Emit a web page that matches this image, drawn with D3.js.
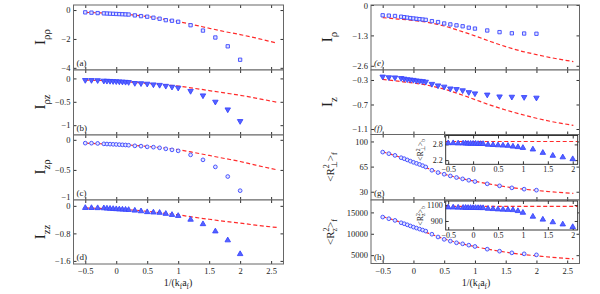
<!DOCTYPE html>
<html>
<head>
<meta charset="utf-8">
<script src="https://cdn.jsdelivr.net/npm/d3@7"></script>
<style>
  body { margin: 0; background: #fff; }
  svg text { font-family: "Liberation Serif", "Times New Roman", serif; fill: #222; }
</style>
</head>
<body>
<div id="chart"></div>
<script>
const width = 600;
const height = 294;

// x values of the simulation points and of the theory curves
const xs = [-0.5, -0.4, -0.3, -0.2, -0.15, -0.1, -0.05, 0, 0.05, 0.1, 0.15, 0.2,
  0.3, 0.4, 0.5, 0.6, 0.7, 0.8, 0.9, 1, 1.2, 1.4, 1.6, 1.8, 2];
const lineXs = [-0.5, -0.25, 0, 0.25, 0.5, 0.75, 1, 1.25, 1.5, 1.75, 2, 2.25, 2.6];
const insetLineXs = [-0.55, 0, 0.5, 1, 1.5, 2.1];

// panel (a) I_rho rho
const ptsA = [-0.16, -0.18, -0.21, -0.23, -0.24, -0.25, -0.26, -0.27, -0.28, -0.29, -0.3, -0.31,
  -0.37, -0.42, -0.46, -0.53, -0.6, -0.7, -0.74, -0.81, -1.05, -1.42, -1.9, -2.51, -3.44];
const lineA = [-0.16, -0.2, -0.25, -0.33, -0.45, -0.62, -0.8, -1.02, -1.26, -1.49, -1.7, -1.93, -2.3];
// panel (b) I_rho z
const ptsB = [-0.036, -0.037, -0.04, -0.05, -0.053, -0.056, -0.06, -0.063, -0.067, -0.071, -0.075, -0.08,
  -0.1, -0.105, -0.115, -0.13, -0.14, -0.16, -0.18, -0.2, -0.27, -0.365, -0.5, -0.665, -0.914];
const lineB = [-0.035, -0.045, -0.06, -0.08, -0.105, -0.135, -0.165, -0.21, -0.26, -0.31, -0.36, -0.42, -0.51];
// panel (c) I_z rho
const ptsC = [-0.055, -0.056, -0.06, -0.067, -0.07, -0.072, -0.075, -0.077, -0.08, -0.083, -0.086, -0.09,
  -0.1, -0.105, -0.117, -0.122, -0.133, -0.15, -0.167, -0.183, -0.25, -0.333, -0.45, -0.61, -0.845];
const lineC = [-0.055, -0.065, -0.075, -0.09, -0.11, -0.135, -0.165, -0.21, -0.26, -0.31, -0.36, -0.42, -0.5];
// panel (d) I_zz
const ptsD = [-0.058, -0.06, -0.064, -0.068, -0.075, -0.082, -0.088, -0.094, -0.1, -0.105, -0.11, -0.116,
  -0.136, -0.155, -0.18, -0.19, -0.2, -0.23, -0.26, -0.29, -0.4, -0.53, -0.74, -1.0, -1.4];
const lineD = [-0.06, -0.075, -0.09, -0.12, -0.16, -0.21, -0.26, -0.33, -0.39, -0.45, -0.5, -0.56, -0.63];
// panel (e) I_rho
const ptsE = [-0.44, -0.455, -0.47, -0.5, -0.52, -0.54, -0.56, -0.575, -0.59, -0.605, -0.62, -0.635,
  -0.69, -0.73, -0.79, -0.83, -0.87, -0.91, -0.97, -1.01, -1.09, -1.16, -1.21, -1.22, -1.23];
const lineE = [-0.54, -0.6, -0.66, -0.75, -0.9, -1.1, -1.32, -1.56, -1.78, -1.97, -2.12, -2.26, -2.42];
// panel (f) I_z
const ptsF = [-0.246, -0.257, -0.26, -0.27, -0.28, -0.29, -0.295, -0.3, -0.31, -0.315, -0.32, -0.33,
  -0.365, -0.39, -0.41, -0.44, -0.45, -0.47, -0.5, -0.52, -0.54, -0.57, -0.575, -0.58, -0.59];
const lineF = [-0.29, -0.32, -0.35, -0.39, -0.45, -0.53, -0.62, -0.71, -0.79, -0.86, -0.925, -0.98, -1.04];
// panel (g) <R_perp^2>_f
const ptsG = [85.2, 83, 80.6, 77.4, 76, 74.3, 72.6, 71, 69.5, 68, 66.3, 64.5,
  59.9, 56.7, 54.4, 52, 49.8, 47.9, 46, 44.2, 41, 38.2, 35.4, 33.6, 32.2];
const lineG = [85.5, 79, 71, 62, 54.5, 49, 44.5, 40.5, 37, 34, 31.8, 29.8, 27.8];
// panel (h) <R_z^2>_f
const ptsH = [13910, 13520, 13130, 12580, 12350, 12100, 11830, 11560, 11330, 11100, 10870, 10630,
  9900, 9250, 8700, 8280, 7890, 7650, 7340, 7030, 6400, 5930, 5540, 5310, 5070];
const lineH = [14000, 12900, 11500, 10100, 8800, 7800, 7000, 6300, 5700, 5200, 4850, 4500, 4150];
// insets: <R_perp^2>_b and <R_z^2>_b
const ptsGin = [2.85, 2.85, 2.84, 2.84, 2.84, 2.83, 2.83, 2.83, 2.83, 2.82, 2.82, 2.82,
  2.79, 2.78, 2.77, 2.76, 2.75, 2.72, 2.7, 2.67, 2.61, 2.48, 2.37, 2.31, 2.24];
const lineGin = [2.91, 2.91, 2.91, 2.91, 2.91, 2.91];
const ptsHin = [1071, 1070, 1068, 1066, 1066, 1065, 1065, 1064, 1064, 1063, 1063, 1062,
  1054, 1050, 1046, 1043, 1040, 1037, 1025, 1004, 955, 918, 885, 858, 825];
const lineHin = [1083, 1083, 1083, 1083, 1083, 1083];

const xTicks = [-0.5, 0, 0.5, 1, 1.5, 2, 2.5];
const insetXTicks = [-0.5, 0, 0.5, 1, 1.5, 2];

const blue = "#3a46ff";
const red = "#ff2a2a";

let svg = d3.select("#chart").append("svg")
  .attr("width", width)
  .attr("height", height);

let lineGen = (x, y) => d3.line()
  .x(d => x(d[0]))
  .y(d => y(d[1]))
  .curve(d3.curveMonotoneX);

// write a label made of normal / sub / sup pieces
function rich(text, parts, size) {
  let shift = 0;
  parts.forEach(p => {
    let target = p.s === "sub" ? 0.3 * size : p.s === "sup" ? -0.42 * size : 0;
    let ts = text.append("tspan")
      .attr("dy", target - shift)
      .attr("font-size", p.s ? size * 0.72 : size)
      .text(p.t);
    if (p.dx) ts.attr("dx", p.dx);
    shift = target;
  });
}

function fmtMinus(v) {
  return String(v).replace("-", "\u2212");
}

// draw one box with its points and curve
function drawPanel(p) {
  let x = d3.scaleLinear().domain(p.xDomain).range([p.x0, p.x1]);
  let y = d3.scaleLinear().domain(p.yDomain).range([p.y1, p.y0]);
  let g = svg.append("g");

  g.append("rect")
    .attr("x", p.x0).attr("y", p.y0)
    .attr("width", p.x1 - p.x0).attr("height", p.y1 - p.y0)
    .attr("fill", "#fff");

  let clip = "clip" + p.id;
  g.append("clipPath").attr("id", clip)
    .append("rect")
    .attr("x", p.x0).attr("y", p.y0)
    .attr("width", p.x1 - p.x0).attr("height", p.y1 - p.y0);

  let fs = p.inset ? 8 : 8.5;
  let axes = [
    [d3.axisBottom(x), p.y1, true],
    [d3.axisTop(x), p.y0, false]
  ];
  axes.forEach(([ax, ty, showLabels]) => {
    g.append("g")
      .attr("transform", "translate(0," + ty + ")")
      .call(ax.tickValues(p.xTicks).tickSize(-3).tickSizeOuter(0).tickPadding(p.inset ? 2 : 4)
        .tickFormat(d => showLabels && p.xLabels ? fmtMinus(d) : ""))
      .call(s => s.select(".domain").remove())
      .call(s => s.selectAll("line").attr("stroke", "#333"))
      .call(s => s.selectAll("text").attr("font-size", fs).attr("font-family", "Liberation Serif").attr("fill", "#222"));
  });
  [[d3.axisLeft(y), p.x0, true], [d3.axisRight(y), p.x1, false]].forEach(([ax, tx, showLabels]) => {
    let a = g.append("g")
      .attr("transform", "translate(" + tx + ",0)")
      .call(ax.tickValues(p.yTicks).tickSize(-3).tickSizeOuter(0).tickPadding(3)
        .tickFormat(d => showLabels ? fmtMinus(d) : ""))
      .call(s => s.select(".domain").remove())
      .call(s => s.selectAll("line").attr("stroke", "#333"))
      .call(s => s.selectAll("text").attr("font-size", fs).attr("font-family", "Liberation Serif").attr("fill", "#222"));
    // keep labels that sit right on a panel edge from running into the next panel
    a.selectAll(".tick text")
      .attr("dy", d => {
        let py = y(d);
        if (py > p.y1 - 2) return "-0.05em";
        if (py < p.y0 + 2) return "0.45em";
        return "0.32em";
      });
  });

  let body = g.append("g").attr("clip-path", "url(#" + clip + ")");

  body.append("path")
    .datum(p.lx.map((v, i) => [v, p.line[i]]))
    .attr("d", lineGen(x, y))
    .attr("fill", "none")
    .attr("stroke", red)
    .attr("stroke-width", 1.2)
    .attr("stroke-dasharray", "4,2.5");

  let sym = {
    square: d3.symbol(d3.symbolSquare, 11),
    up: d3.symbol(d3.symbolTriangle, 13),
    down: d3.symbol(d3.symbolTriangle, 13),
    circle: d3.symbol(d3.symbolCircle, 11)
  }[p.marker];
  let filled = p.marker === "up" || p.marker === "down";

  body.selectAll(".pt")
    .data(xs.map((v, i) => [v, p.pts[i]]))
    .enter().append("path")
    .attr("class", "pt")
    .attr("transform", d => "translate(" + x(d[0]) + "," + y(d[1]) + ")" + (p.marker === "down" ? " rotate(180)" : ""))
    .attr("d", sym)
    .attr("fill", filled ? "#5563ff" : "#e2e4ff")
    .attr("stroke", blue)
    .attr("stroke-width", 0.9);

  g.append("rect")
    .attr("x", p.x0).attr("y", p.y0)
    .attr("width", p.x1 - p.x0).attr("height", p.y1 - p.y0)
    .attr("fill", "none")
    .attr("stroke", p.inset ? "#222" : "#666")
    .attr("stroke-width", p.inset ? 0.9 : 1);

  if (p.tag) {
    g.append("text")
      .attr("x", p.x0 + 3).attr("y", p.y1 - 4)
      .attr("font-size", 9)
      .attr("font-style", p.tagItalic ? "italic" : "normal")
      .text(p.tag);
  }
}

const colL = [73.5, 283.5];
const colR = [371, 579.5];
const rowsL = [[5, 70], [70, 135], [135, 200], [200, 264]];
const rowsR = [[5, 70], [70, 134.5], [134.5, 200], [200, 263.5]];
const xDom = [-0.69, 2.7];

const panels = [
  { id: "a", col: colL, row: rowsL[0], yDomain: [-4.15, 0.35], yTicks: [-4, -2, 0], pts: ptsA, line: lineA, marker: "square", tag: "(a)" },
  { id: "b", col: colL, row: rowsL[1], yDomain: [-1.21, 0.18], yTicks: [-1, -0.5, 0], pts: ptsB, line: lineB, marker: "down", tag: "(b)" },
  { id: "c", col: colL, row: rowsL[2], yDomain: [-1, 0.08], yTicks: [-1, -0.5, 0], pts: ptsC, line: lineC, marker: "circle", tag: "(c)" },
  { id: "d", col: colL, row: rowsL[3], yDomain: [-1.69, 0.17], yTicks: [-1.6, -0.8, 0], pts: ptsD, line: lineD, marker: "up", tag: "(d)", xLabels: true },
  { id: "e", col: colR, row: rowsR[0], yDomain: [-2.78, 0], yTicks: [-2.6, -1.3, 0], pts: ptsE, line: lineE, marker: "square", tag: "(e)", tagItalic: true },
  { id: "f", col: colR, row: rowsR[1], yDomain: [-1.19, -0.137], yTicks: [-1.1, -0.7, -0.3], pts: ptsF, line: lineF, marker: "down", tag: "(f)", tagItalic: true },
  { id: "g", col: colR, row: rowsR[2], yDomain: [18.5, 109.7], yTicks: [30, 65, 100], pts: ptsG, line: lineG, marker: "circle", tag: "(g)" },
  { id: "h", col: colR, row: rowsR[3], yDomain: [3050, 17900], yTicks: [5000, 10000, 15000], pts: ptsH, line: lineH, marker: "circle", tag: "(h)", xLabels: true }
];

panels.forEach(p => drawPanel({
  id: p.id, x0: p.col[0], x1: p.col[1], y0: p.row[0], y1: p.row[1],
  xDomain: xDom, xTicks: xTicks, yDomain: p.yDomain, yTicks: p.yTicks,
  pts: p.pts, line: p.line, lx: lineXs, marker: p.marker,
  tag: p.tag, tagItalic: p.tagItalic, xLabels: p.xLabels
}));

// insets in (g) and (h)
drawPanel({ id: "gin", inset: true, x0: 445.7, x1: 577.7, y0: 135.5, y1: 164.3,
  xDomain: [-0.55, 2.1], xTicks: insetXTicks, yDomain: [2.04, 3.14], yTicks: [2.2, 2.8],
  pts: ptsGin, line: lineGin, lx: insetLineXs, marker: "up", xLabels: true });
drawPanel({ id: "hin", inset: true, x0: 445.7, x1: 577.7, y0: 201, y1: 230,
  xDomain: [-0.55, 2.1], xTicks: insetXTicks, yDomain: [787, 1150], yTicks: [900, 1100],
  pts: ptsHin, line: lineHin, lx: insetLineXs, marker: "up", xLabels: true });

// y labels
function yLabel(cx, cy, parts, size) {
  let t = svg.append("text")
    .attr("transform", "translate(" + cx + "," + cy + ") rotate(-90)")
    .attr("text-anchor", "middle");
  rich(t, parts, size);
}
yLabel(45, 37, [{ t: "I" }, { t: "ρρ", s: "sub" }], 15);
yLabel(45, 102, [{ t: "I" }, { t: "ρz", s: "sub" }], 15);
yLabel(45, 167, [{ t: "I" }, { t: "zρ", s: "sub" }], 15);
yLabel(45, 232, [{ t: "I" }, { t: "zz", s: "sub" }], 15);
yLabel(332, 37, [{ t: "I" }, { t: "ρ", s: "sub" }], 15);
yLabel(332, 102, [{ t: "I" }, { t: "z", s: "sub" }], 15);
yLabel(334, 167, [{ t: "<R" }, { t: "2", s: "sup" }, { t: "⊥", s: "sub", dx: -4 }, { t: ">" }, { t: "f", s: "sub" }], 11);
yLabel(334, 232, [{ t: "<R" }, { t: "2", s: "sup" }, { t: "z", s: "sub", dx: -4 }, { t: ">" }, { t: "f", s: "sub" }], 11);
yLabel(423, 150, [{ t: "<R" }, { t: "2", s: "sup" }, { t: "⊥", s: "sub", dx: -3 }, { t: ">" }, { t: "b", s: "sub" }], 8);
yLabel(423, 216, [{ t: "<R" }, { t: "2", s: "sup" }, { t: "z", s: "sub", dx: -3 }, { t: ">" }, { t: "b", s: "sub" }], 8);

// x labels
function xLabel(cx) {
  let t = svg.append("text")
    .attr("x", cx).attr("y", 286)
    .attr("text-anchor", "middle");
  rich(t, [{ t: "1/(k" }, { t: "f", s: "sub" }, { t: "a" }, { t: "f", s: "sub" }, { t: ")" }], 10);
}
xLabel(178);
xLabel(476);
</script>
</body>
</html>
